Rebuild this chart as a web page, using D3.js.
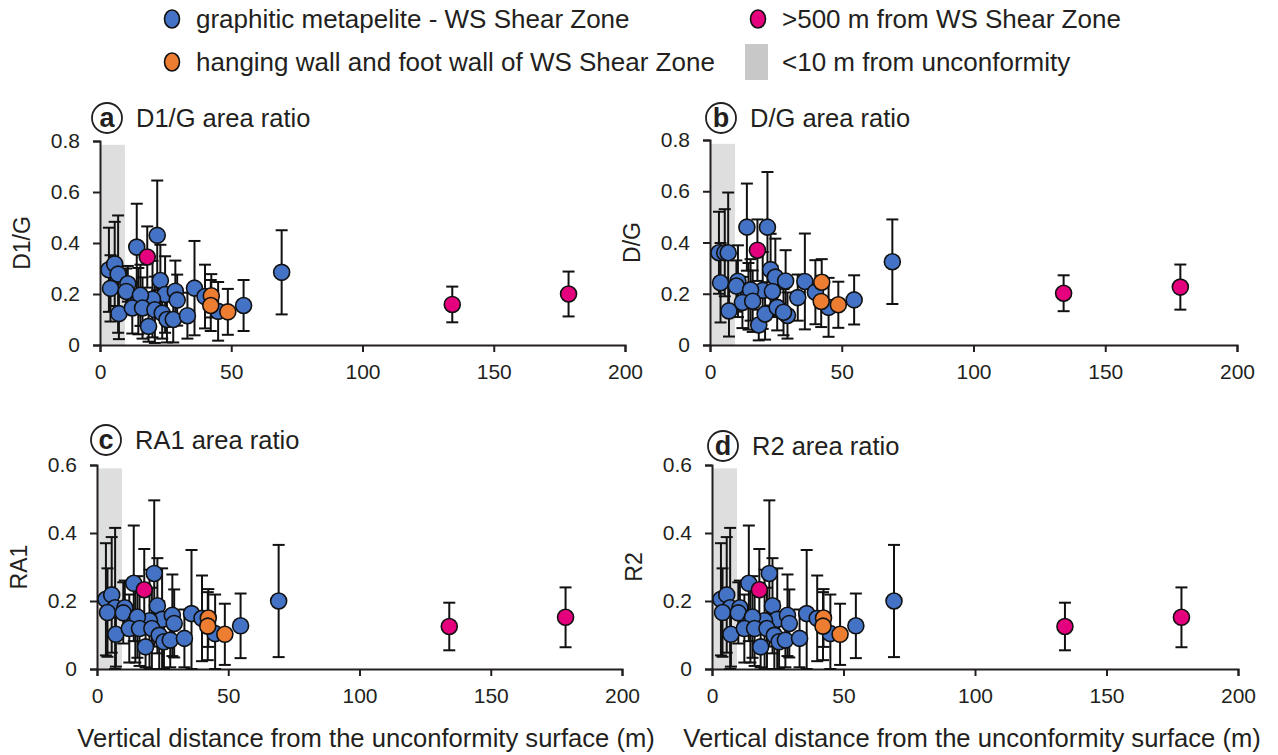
<!DOCTYPE html>
<html>
<head>
<meta charset="utf-8">
<script src="https://d3js.org/d3.v7.min.js"></script>
<style>
  body { margin: 0; background: #fff; }
  text { font-family: "Liberation Sans", Arial, sans-serif; fill: #231f20; }
</style>
</head>
<body>
<svg width="1278" height="755"></svg>
<script>
// sample distances (m) above the unconformity
const blueDist = [3.4, 5.6, 6.9, 4.0, 7.2, 10.6, 10.0, 14.0, 21.8, 23.0, 24.8, 28.7, 29.4, 20.0, 14.6,
  15.4, 12.3, 16.2, 18.5, 20.9, 23.7, 25.5, 27.9, 33.3, 36.0, 40.0, 45.0, 54.7, 69.2];
const orangeDist = [42.4, 42.2, 48.7];
const magentaDist = [18.0, 134.2, 178.5];

// D1/G
const d1gBlue = [0.295, 0.318, 0.278, 0.222, 0.123, 0.24, 0.21, 0.384, 0.43, 0.253, 0.198, 0.211, 0.176, 0.18, 0.172,
  0.195, 0.145, 0.145, 0.073, 0.138, 0.125, 0.1, 0.1, 0.115, 0.223, 0.19, 0.132, 0.155, 0.285];
const d1gBlueErr = [0.165, 0.165, 0.23, 0.13, 0.1, 0.07, 0.09, 0.17, 0.215, 0.14, 0.15, 0.12, 0.1, 0.15, 0.13,
  0.12, 0.1, 0.12, 0.06, 0.13, 0.1, 0.09, 0.09, 0.09, 0.185, 0.125, 0.115, 0.1, 0.165];
const d1gOrange = [0.193, 0.155, 0.13], d1gOrangeErr = [0.085, 0.1, 0.09];
const d1gMagenta = [0.345, 0.159, 0.2], d1gMagentaErr = [0.12, 0.07, 0.088];

// D/G
const dgBlue = [0.36, 0.36, 0.36, 0.243, 0.133, 0.249, 0.23, 0.46, 0.46, 0.294, 0.265, 0.25, 0.115, 0.213, 0.19,
  0.215, 0.166, 0.171, 0.078, 0.121, 0.209, 0.147, 0.128, 0.185, 0.248, 0.206, 0.147, 0.176, 0.325];
const dgBlueErr = [0.16, 0.17, 0.235, 0.155, 0.1, 0.14, 0.1, 0.17, 0.215, 0.14, 0.15, 0.12, 0.09, 0.15, 0.13,
  0.12, 0.1, 0.12, 0.06, 0.1, 0.1, 0.09, 0.09, 0.09, 0.187, 0.125, 0.115, 0.096, 0.165];
const dgOrange = [0.245, 0.17, 0.157], dgOrangeErr = [0.09, 0.1, 0.09];
const dgMagenta = [0.37, 0.202, 0.226], dgMagentaErr = [0.12, 0.07, 0.088];

// RA1
const ra1Blue = [0.205, 0.218, 0.18, 0.166, 0.102, 0.18, 0.165, 0.252, 0.281, 0.186, 0.146, 0.158, 0.134, 0.142, 0.139,
  0.153, 0.119, 0.119, 0.065, 0.119, 0.099, 0.08, 0.085, 0.09, 0.163, 0.149, 0.104, 0.127, 0.2];
const ra1BlueErr = [0.165, 0.17, 0.235, 0.13, 0.095, 0.08, 0.09, 0.17, 0.215, 0.14, 0.15, 0.12, 0.1, 0.15, 0.12,
  0.12, 0.1, 0.11, 0.06, 0.12, 0.1, 0.08, 0.08, 0.085, 0.187, 0.126, 0.115, 0.095, 0.165];
const ra1Orange = [0.15, 0.126, 0.102], ra1OrangeErr = [0.085, 0.1, 0.09];
const ra1Magenta = [0.233, 0.125, 0.152], ra1MagentaErr = [0.12, 0.07, 0.088];

// R2
const r2Blue = [0.205, 0.218, 0.18, 0.166, 0.102, 0.18, 0.165, 0.252, 0.281, 0.186, 0.146, 0.158, 0.134, 0.142, 0.139,
  0.153, 0.119, 0.119, 0.065, 0.119, 0.099, 0.08, 0.085, 0.09, 0.163, 0.149, 0.104, 0.127, 0.2];
const r2BlueErr = [0.165, 0.17, 0.235, 0.13, 0.095, 0.08, 0.09, 0.17, 0.215, 0.14, 0.15, 0.12, 0.1, 0.15, 0.12,
  0.12, 0.1, 0.11, 0.06, 0.12, 0.1, 0.08, 0.08, 0.085, 0.187, 0.126, 0.115, 0.095, 0.165];
const r2Orange = [0.15, 0.126, 0.102], r2OrangeErr = [0.085, 0.1, 0.09];
const r2Magenta = [0.233, 0.125, 0.152], r2MagentaErr = [0.12, 0.07, 0.088];

const xTicks = [0, 50, 100, 150, 200];
const legendItems = ["graphitic metapelite - WS Shear Zone", "hanging wall and foot wall of WS Shear Zone",
  ">500 m from WS Shear Zone", "<10 m from unconformity"];
const xTitle = "Vertical distance from the unconformity surface (m)";
const shadeMax = 9.5;

const colors = { blue: "#4472c4", orange: "#ed7d31", magenta: "#e5007d" };

const svg = d3.select("svg");

function series(dist, val, err, color) {
  return dist.map((d, i) => ({ x: d, y: val[i], e: err[i], color }));
}

const panels = [
  { letter: "a", title: "D1/G area ratio", yLabel: "D1/G", yMax: 0.8, yTicks: [0, 0.2, 0.4, 0.6, 0.8],
    x0: 100, x1: 625, top: 141, bottom: 345, shadeTop: 0.785, lx: 107, ly: 118, xTitleCx: null,
    data: [series(blueDist, d1gBlue, d1gBlueErr, colors.blue), series(orangeDist, d1gOrange, d1gOrangeErr, colors.orange),
      series(magentaDist, d1gMagenta, d1gMagentaErr, colors.magenta)] },
  { letter: "b", title: "D/G area ratio", yLabel: "D/G", yMax: 0.8, yTicks: [0, 0.2, 0.4, 0.6, 0.8],
    x0: 710, x1: 1237, top: 140, bottom: 345, shadeTop: 0.785, lx: 721, ly: 118, xTitleCx: null,
    data: [series(blueDist, dgBlue, dgBlueErr, colors.blue), series(orangeDist, dgOrange, dgOrangeErr, colors.orange),
      series(magentaDist, dgMagenta, dgMagentaErr, colors.magenta)] },
  { letter: "c", title: "RA1 area ratio", yLabel: "RA1", yMax: 0.6, yTicks: [0, 0.2, 0.4, 0.6],
    x0: 97, x1: 622, top: 465, bottom: 669, shadeTop: 0.59, lx: 106, ly: 440, xTitleCx: 366,
    data: [series(blueDist, ra1Blue, ra1BlueErr, colors.blue), series(orangeDist, ra1Orange, ra1OrangeErr, colors.orange),
      series(magentaDist, ra1Magenta, ra1MagentaErr, colors.magenta)] },
  { letter: "d", title: "R2 area ratio", yLabel: "R2", yMax: 0.6, yTicks: [0, 0.2, 0.4, 0.6],
    x0: 712, x1: 1238, top: 465, bottom: 669, shadeTop: 0.59, lx: 723, ly: 446, xTitleCx: 972,
    data: [series(blueDist, r2Blue, r2BlueErr, colors.blue), series(orangeDist, r2Orange, r2OrangeErr, colors.orange),
      series(magentaDist, r2Magenta, r2MagentaErr, colors.magenta)] }
];

panels.forEach(p => {
  const x = d3.scaleLinear().domain([0, 200]).range([p.x0, p.x1]);
  const y = d3.scaleLinear().domain([0, p.yMax]).range([p.bottom, p.top]);
  const g = svg.append("g");

  // shaded band near the unconformity
  g.append("rect")
    .attr("x", x(0)).attr("y", y(p.shadeTop))
    .attr("width", x(shadeMax) - x(0)).attr("height", y(0) - y(p.shadeTop))
    .attr("fill", "#dedede");

  // axes
  const xAxis = g.append("g").attr("transform", `translate(0,${p.bottom})`)
    .call(d3.axisBottom(x).tickValues(xTicks).tickSize(7).tickPadding(12).tickFormat(d3.format("d")));
  const yAxis = g.append("g").attr("transform", `translate(${p.x0},0)`)
    .call(d3.axisLeft(y).tickValues(p.yTicks).tickSize(7).tickPadding(13).tickFormat(d => d === 0 ? "0" : d3.format(".1f")(d)));
  [xAxis, yAxis].forEach(a => {
    a.select(".domain").attr("stroke", "#231f20").attr("stroke-width", 2);
    a.selectAll(".tick line").attr("stroke", "#231f20").attr("stroke-width", 2);
    a.selectAll(".tick text").attr("font-size", 21).attr("fill", "#231f20")
      .style("font-family", "'Liberation Sans', Arial, sans-serif");
  });

  // error bars, then markers, series by series
  p.data.forEach(s => {
    const eb = g.append("g").selectAll("g").data(s).join("g").attr("stroke", "#111").attr("stroke-width", 2);
    eb.append("line")
      .attr("x1", d => x(d.x)).attr("x2", d => x(d.x))
      .attr("y1", d => y(Math.max(0, d.y - d.e))).attr("y2", d => y(d.y + d.e));
    eb.append("line")
      .attr("x1", d => x(d.x) - 6).attr("x2", d => x(d.x) + 6)
      .attr("y1", d => y(d.y + d.e)).attr("y2", d => y(d.y + d.e));
    eb.append("line")
      .attr("x1", d => x(d.x) - 6).attr("x2", d => x(d.x) + 6)
      .attr("y1", d => y(Math.max(0, d.y - d.e))).attr("y2", d => y(Math.max(0, d.y - d.e)));
  });
  p.data.forEach(s => {
    g.append("g").selectAll("circle").data(s).join("circle")
      .attr("cx", d => x(d.x)).attr("cy", d => y(d.y)).attr("r", 8)
      .attr("fill", d => d.color).attr("stroke", "#111").attr("stroke-width", 1.6);
  });

  // panel letter and title
  g.append("circle").attr("cx", p.lx).attr("cy", p.ly).attr("r", 15)
    .attr("fill", "#fff").attr("stroke", "#231f20").attr("stroke-width", 1.8);
  g.append("text").attr("x", p.lx).attr("y", p.ly + 9).attr("text-anchor", "middle")
    .attr("font-size", 27).attr("font-weight", "bold").text(p.letter);
  g.append("text").attr("x", p.lx + 29).attr("y", p.ly + 9).attr("font-size", 25.5).text(p.title);

  // y label
  g.append("text")
    .attr("transform", `translate(${p.x0 - 70},${(p.top + p.bottom) / 2}) rotate(-90)`)
    .attr("text-anchor", "middle").attr("font-size", 23).text(p.yLabel);

  if (p.xTitleCx) {
    g.append("text").attr("x", p.xTitleCx).attr("y", 747).attr("text-anchor", "middle")
      .attr("font-size", 25.6).text(xTitle);
  }
});

// legend
const legend = svg.append("g");
const legendPos = [[172, 19], [172, 62], [758, 19], [758, 62]];
const legendFill = [colors.blue, colors.orange, colors.magenta, null];
legendItems.forEach((t, i) => {
  const [lx, ly] = legendPos[i];
  if (legendFill[i]) {
    legend.append("ellipse").attr("cx", lx).attr("cy", ly).attr("rx", 7.5).attr("ry", 9)
      .attr("fill", legendFill[i]).attr("stroke", "#111").attr("stroke-width", 1.6);
  } else {
    legend.append("rect").attr("x", lx - 13).attr("y", ly - 18).attr("width", 23).attr("height", 36).attr("fill", "#c8c8c8");
  }
  legend.append("text").attr("x", lx + 24).attr("y", ly + 9).attr("font-size", 26).text(t);
});
</script>
</body>
</html>
